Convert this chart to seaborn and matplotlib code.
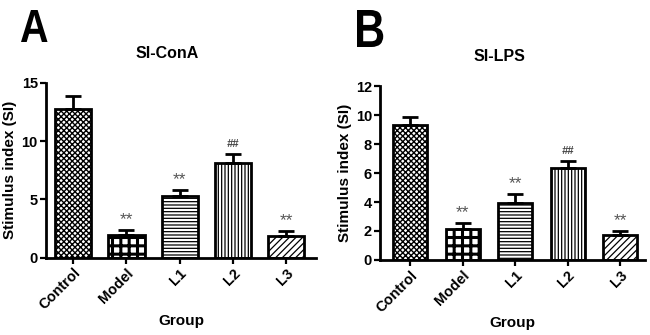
import numpy as np
import pandas as pd
import seaborn as sns
import matplotlib
matplotlib.use("Agg")
import matplotlib.pyplot as plt
from matplotlib.textpath import TextPath
from matplotlib.patches import PathPatch
from matplotlib.font_manager import FontProperties
from matplotlib.transforms import Affine2D

# Data
groups = ["Control", "Model", "L1", "L2", "L3"]
conA_mean = [12.75, 1.95, 5.25, 8.1, 1.85]
conA_upper = [13.85, 2.35, 5.8, 8.85, 2.3]
lps_mean = [9.3, 2.15, 3.9, 6.35, 1.75]
lps_upper = [9.85, 2.55, 4.55, 6.8, 2.0]
marks = ["", "**", "**", "##", "**"]
hatches = ["xxxxxx", "++", "-----", "|||||", "/////"]

sns.set_style("ticks")
plt.rcParams["font.family"] = ["Liberation Sans", "DejaVu Sans"]
plt.rcParams["hatch.linewidth"] = 0.9
plt.rcParams["font.weight"] = "bold"
for k in ["text.color", "axes.labelcolor", "xtick.color", "ytick.color", "axes.edgecolor"]:
    plt.rcParams[k] = "black"

fig = plt.figure(figsize=(6.5, 3.35), dpi=100)
axA = fig.add_axes([0.071, 0.231, 0.415, 0.522])
axB = fig.add_axes([0.585, 0.224, 0.408, 0.519])


def panel(ax, means, upper, title, ylim, yticks, xlim, width):
    df = pd.DataFrame({"Group": groups, "SI": means})
    sns.barplot(data=df, x="Group", y="SI", color="white", edgecolor="black",
                linewidth=2, width=width, errorbar=None, ax=ax)
    for p, h in zip(ax.patches, hatches):
        p.set_hatch(h)
        p.set_facecolor("white")
    # model bar: heavier grid so it reads like a checkerboard
    ax.patches[1].set_hatch_linewidth(2.2)
    ax.patches[0].set_hatch_linewidth(1.0)
    err = np.array(upper) - np.array(means)
    ax.errorbar(range(len(groups)), means, yerr=[np.zeros(len(err)), err],
                fmt="none", ecolor="black", elinewidth=2, capsize=6, capthick=2,
                zorder=3)
    for i, (u, m) in enumerate(zip(upper, marks)):
        if m == "##":
            ax.text(i, u + ylim[1] * 0.03, m, ha="center", va="bottom",
                    fontsize=8, color="#444444", fontweight="bold", fontstyle="italic")
        elif m:
            ax.text(i, u + ylim[1] * 0.015, m, ha="center", va="bottom",
                    fontsize=12.5, color="#555555", fontweight="normal")
    ax.set_ylim(*ylim)
    ax.set_yticks(yticks)
    ax.set_xlim(*xlim)
    sns.despine(ax=ax)
    for s in ["left", "bottom"]:
        ax.spines[s].set_linewidth(2)
    ax.tick_params(width=1.6, length=4, pad=2, labelsize=10.5)
    plt.setp(ax.get_xticklabels(), rotation=45, ha="right",
             rotation_mode="anchor", fontweight="bold")
    plt.setp(ax.get_yticklabels(), fontweight="bold")
    ax.set_xlabel("Group", fontsize=11, fontweight="bold", labelpad=1)
    ax.set_ylabel("Stimulus index (SI)", fontsize=11, fontweight="bold", labelpad=3)
    ax.set_title(title, fontsize=11.5, fontweight="bold", pad=18, x=0.45)


panel(axA, conA_mean, conA_upper, "SI-ConA", (0, 15), [0, 5, 10, 15], (-0.51, 4.56), 0.68)
panel(axB, lps_mean, lps_upper, "SI-LPS", (0, 12), [0, 2, 4, 6, 8, 10, 12], (-0.57, 4.48), 0.64)


def panel_letter(letter, x0, y0, h, sx):
    # tall condensed bold letter, placed in pixel coords
    tp = TextPath((0, 0), letter, size=100, prop=FontProperties(family="Liberation Sans", weight="bold"))
    ext = tp.get_extents()
    s = h / ext.height
    tr = Affine2D().translate(-ext.x0, -ext.y0).scale(s * sx, s).translate(x0, 335 - y0 - h)
    fig.patches.append(PathPatch(tr.transform_path(tp), facecolor="black", edgecolor="none",
                                 transform=None))


panel_letter("A", 21, 10, 32, 0.85)
panel_letter("B", 357, 10, 37, 0.8)

fig.savefig("out.png", dpi=100, facecolor="white")
